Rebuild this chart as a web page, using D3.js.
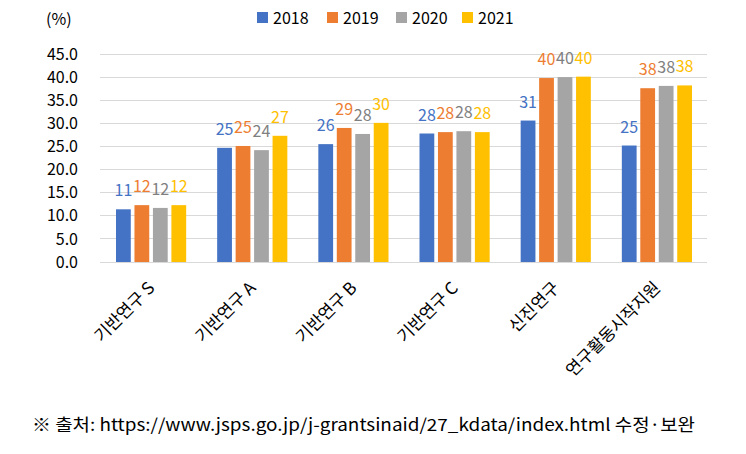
<!DOCTYPE html>
<html><head><meta charset="utf-8">
<script src="https://cdn.jsdelivr.net/npm/d3@7"></script>
<style>
body{margin:0;background:#fff;}
svg{display:block;font-family:"Noto Sans CJK KR","Noto Sans",sans-serif;}
</style></head>
<body><svg id="chart" width="746" height="454"></svg>
<script>
const categories = ["기반연구 S","기반연구 A","기반연구 B","기반연구 C","신진연구","연구활동시작지원"];
const years = ["2018","2019","2020","2021"];
const v2018 = [11.4, 24.7, 25.5, 27.8, 30.6, 25.2];
const v2019 = [12.3, 25.1, 29.0, 28.1, 39.8, 37.6];
const v2020 = [11.7, 24.2, 27.7, 28.3, 40.0, 38.1];
const v2021 = [12.3, 27.3, 30.1, 28.1, 40.1, 38.2];
const yTicks = [0,5,10,15,20,25,30,35,40,45];
const colors = ["#4472C4","#ED7D31","#A5A5A5","#FFC000"];
const labelColors = ["#4472C4","#ED7D31","#7F7F7F","#FFC000"];
const unitLabel = "(%)";
const sourceText = "※ 출처:  https://www.jsps.go.jp/j-grantsinaid/27_kdata/index.html  수정·보완";

const series = [v2018, v2019, v2020, v2021];
const svg = d3.select("#chart");
const L = 100, R = 707, T = 54, B = 262;

const y = d3.scaleLinear().domain([0,45]).range([B,T]);
const x0 = d3.scaleBand().domain(categories).range([L,R]).padding(0);
const x1 = d3.scaleBand().domain(years).range([16, x0.bandwidth()-15]).paddingInner(0.2).paddingOuter(0);

// gridlines
svg.append("g").selectAll("line").data(yTicks).join("line")
  .attr("x1",L).attr("x2",R).attr("y1",d=>y(d)).attr("y2",d=>y(d))
  .attr("stroke","#D9D9D9").attr("stroke-width",1).attr("shape-rendering","crispEdges");

// y axis labels
const yAxis = d3.axisLeft(y).tickValues(yTicks).tickFormat(d3.format(".1f")).tickSize(0).tickPadding(0);
const ya = svg.append("g").attr("transform",`translate(78,0)`).call(yAxis);
ya.select(".domain").remove();
ya.selectAll("text").attr("font-size",16).attr("fill","#000").attr("font-family","'Noto Sans CJK KR',sans-serif");

// unit
svg.append("text").attr("x",46).attr("y",25).attr("font-size",16).attr("fill","#000").text(unitLabel);

// bars
const groups = svg.append("g").selectAll("g").data(categories).join("g")
  .attr("transform",d=>`translate(${x0(d)},0)`);
groups.each(function(cat, ci){
  const g = d3.select(this);
  years.forEach((yr, si)=>{
    const val = series[si][ci];
    g.append("rect").attr("x",x1(yr)).attr("width",x1.bandwidth())
      .attr("y",y(val)).attr("height",y(0)-y(val)).attr("fill",colors[si]);
    g.append("text").attr("x",x1(yr)+x1.bandwidth()/2).attr("y",y(val)-13)
      .attr("text-anchor","middle").attr("font-size",16).attr("fill",labelColors[si])
      .text(d3.format(".0f")(val));
  });
});

// x labels
svg.append("g").selectAll("text").data(categories).join("text")
  .attr("transform",d=>`translate(${x0(d)+x0.bandwidth()/2+5},${289}) rotate(-45)`)
  .attr("text-anchor","end").attr("font-size",17).attr("fill","#000").text(d=>d);

// legend
const lg = svg.append("g");
const legX = [257, 327, 396, 462];
years.forEach((yr,i)=>{
  lg.append("rect").attr("x",legX[i]).attr("y",12).attr("width",11).attr("height",11).attr("fill",colors[i]);
  lg.append("text").attr("x",legX[i]+16).attr("y",24).attr("font-size",16).attr("fill","#000").text(yr);
});

// source
svg.append("text").attr("x",32).attr("y",431).attr("font-size",17).attr("fill","#000")
  .attr("textLength",663).attr("lengthAdjust","spacingAndGlyphs").text(sourceText);
</script></body></html>
